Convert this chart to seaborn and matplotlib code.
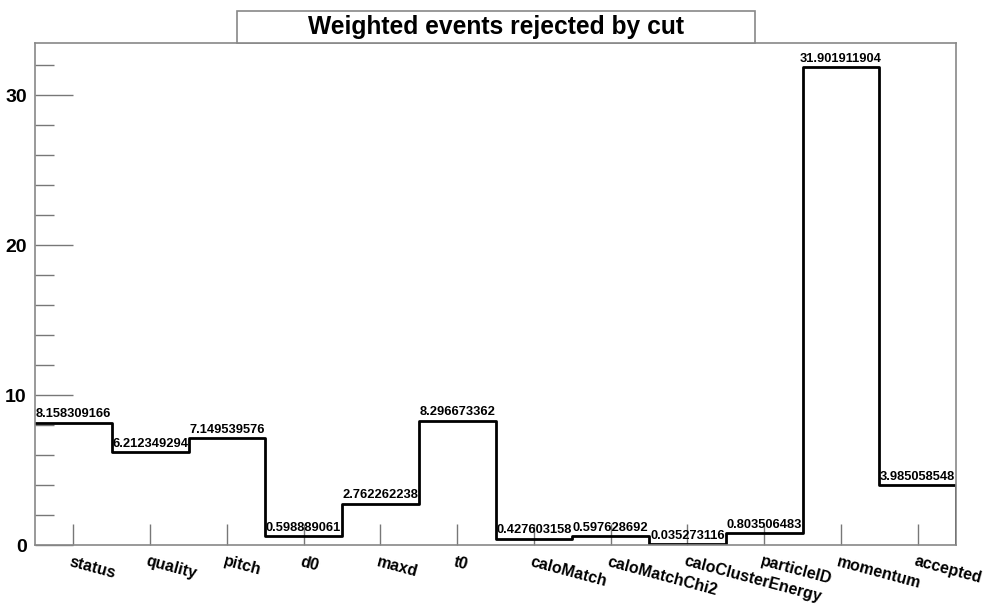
import numpy as np
import pandas as pd
import matplotlib
matplotlib.use("Agg")
import matplotlib.pyplot as plt
from matplotlib.patches import Rectangle
from matplotlib.ticker import MultipleLocator
import seaborn as sns

cuts = ["status", "quality", "pitch", "d0", "maxd", "t0", "caloMatch",
        "caloMatchChi2", "caloClusterEnergy", "particleID", "momentum", "accepted"]
weights = [8.158309166, 6.212349294, 7.149539576, 0.598889061, 2.762262238,
           8.296673362, 0.427603158, 0.597628692, 0.035273116, 0.803506483,
           31.901911904, 3.985058548]
value_labels = ["8.158309166", "6.212349294", "7.149539576", "0.598889061",
                "2.762262238", "8.296673362", "0.427603158", "0.597628692",
                "0.035273116", "0.803506483", "31.901911904", "3.985058548"]
title = "Weighted events rejected by cut"

sns.set_style("white")
plt.rcParams["font.family"] = ["Liberation Sans", "DejaVu Sans"]
plt.rcParams["text.color"] = "black"
plt.rcParams["ytick.labelcolor"] = "black"

W, H = 986, 608
fig = plt.figure(figsize=(W / 100, H / 100), dpi=100)
ax = fig.add_axes([35 / W, 63 / H, (956 - 35) / W, (545 - 43) / H])

# histogram outline: one step per bin, closed down to zero at the right edge
n = len(cuts)
idx = np.arange(n)
edges = np.arange(n + 1) - 0.5
step = pd.DataFrame({
    "x": np.concatenate([edges, [edges[-1]]]),
    "y": np.concatenate([weights, [weights[-1], 0.0]]),
})
sns.lineplot(data=step, x="x", y="y", drawstyle="steps-post", sort=False,
             estimator=None, color="black", linewidth=2, ax=ax)

ax.set_xlim(-0.5, n - 0.5)
ax.set_ylim(0, 1.05 * max(weights))
ax.set_xlabel("")
ax.set_ylabel("")

for s in ax.spines.values():
    s.set_color("#888888")
    s.set_linewidth(1.2)

# y axis: major every 10, minor every 2, ticks pointing inward
ax.yaxis.set_major_locator(MultipleLocator(10))
ax.yaxis.set_minor_locator(MultipleLocator(2))
ax.tick_params(axis="y", which="major", direction="in", length=27, width=1,
               color="#777777", labelsize=14, pad=6, left=True,
               labelcolor="black")
ax.tick_params(axis="y", which="minor", direction="in", length=14, width=1,
               color="#777777", left=True)
for lab in ax.get_yticklabels():
    lab.set_fontweight("bold")

# x axis: one tick per category at bin centres, rotated labels
ax.set_xticks(idx)
ax.set_xticklabels([])
ax.tick_params(axis="x", which="major", direction="in", length=15, width=1,
               color="#777777", bottom=True)
for i, name in enumerate(cuts):
    ax.text(i - 0.02, -0.6, name, rotation=-15, rotation_mode="anchor",
            ha="left", va="top", fontsize=11.5, fontweight="bold",
            color="black")

# value labels above each bin
for i, (v, s) in enumerate(zip(weights, value_labels)):
    ax.text(i, v + 0.15, s, ha="center", va="bottom", fontsize=9.3,
            fontweight="bold", color="black")

# title box
fig.patches.append(Rectangle((237 / W, (H - 43) / H), (755 - 237) / W, 32 / H,
                             transform=fig.transFigure, facecolor="white",
                             edgecolor="#888888", linewidth=1.2))
fig.text(496 / W, (H - 27) / H, title, ha="center", va="center",
         fontsize=17.7, fontweight="bold", color="black")

fig.savefig("out.png", dpi=100)
